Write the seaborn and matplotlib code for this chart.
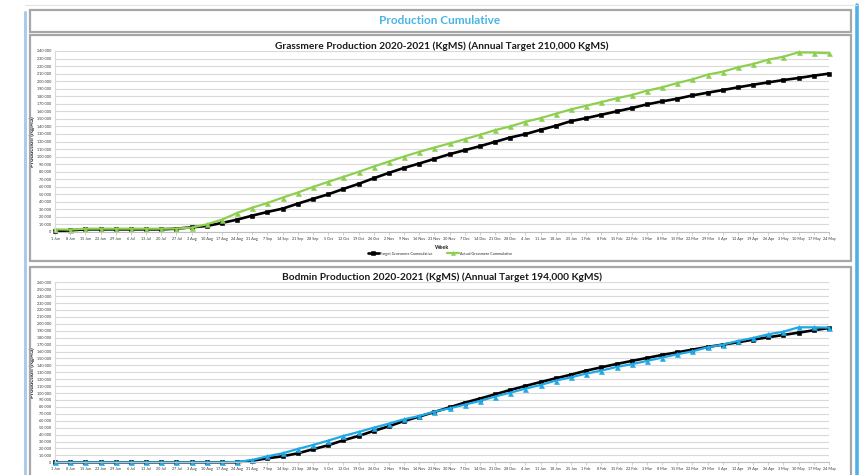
import matplotlib
matplotlib.use("Agg")
import matplotlib.pyplot as plt
import seaborn as sns
import pandas as pd
from matplotlib.patches import Rectangle
from matplotlib.lines import Line2D
from matplotlib.ticker import FuncFormatter, MultipleLocator

weeks = ["1 Jun", "8 Jun", "15 Jun", "22 Jun", "29 Jun", "6 Jul", "13 Jul", "20 Jul", "27 Jul",
         "3 Aug", "10 Aug", "17 Aug", "24 Aug", "31 Aug", "7 Sep", "14 Sep", "21 Sep", "28 Sep",
         "5 Oct", "12 Oct", "19 Oct", "26 Oct", "2 Nov", "9 Nov", "16 Nov", "23 Nov", "30 Nov",
         "7 Dec", "14 Dec", "21 Dec", "28 Dec", "4 Jan", "11 Jan", "18 Jan", "25 Jan", "1 Feb",
         "8 Feb", "15 Feb", "22 Feb", "1 Mar", "8 Mar", "15 Mar", "22 Mar", "29 Mar", "5 Apr",
         "12 Apr", "19 Apr", "26 Apr", "3 May", "10 May", "17 May", "24 May"]

grassmere_target = [1000, 2200, 3500, 3500, 3500, 3500, 3500, 3500, 4400, 6200, 8000, 12000,
                    16400, 21700, 26600, 31000, 37600, 43900, 50000, 57100, 63800, 71300, 78400,
                    85000, 90800, 97000, 103200, 108500, 113800, 119600, 125300, 129800, 135500,
                    140800, 147000, 151000, 155500, 159900, 164300, 169200, 173200, 176700,
                    181100, 184700, 188200, 191800, 195300, 198400, 201500, 204200, 207300, 210000]
grassmere_actual = [3500, 3100, 4400, 4400, 4400, 4400, 4400, 4400, 4600, 5800, 10200, 16400,
                    25200, 32300, 38500, 45600, 52300, 59800, 66400, 73100, 79700, 86800, 93400,
                    100100, 106300, 112000, 117400, 123100, 128900, 135100, 140000, 146200,
                    151000, 156800, 162600, 167400, 172300, 177200, 181600, 187300, 191800,
                    197500, 202400, 208600, 212600, 218300, 222800, 228500, 232500, 238300,
                    237800, 237000]
bodmin_target = [0, 0, 0, 0, 0, 0, 0, 0, 0, 0, 0, 0, 0, 2400, 5800, 8700, 13000, 18800, 24600,
                 31800, 38000, 45300, 52000, 59700, 66000, 72700, 79400, 86200, 92000, 98200,
                 104500, 110300, 116000, 121300, 126600, 132400, 137200, 142000, 146400, 150700,
                 155000, 158900, 162700, 166600, 170000, 173300, 177200, 180600, 183900, 187300,
                 190700, 194000]
bodmin_actual = [0, 0, 0, 0, 0, 0, 0, 0, 0, 0, 0, 0, 500, 3400, 8700, 13000, 19300, 25000,
                 31300, 38000, 43800, 50000, 55900, 62100, 66900, 73200, 78000, 83300, 88600,
                 95000, 100600, 106400, 111700, 118000, 122800, 128100, 132400, 137700, 141600,
                 146400, 151200, 156000, 160300, 166100, 170000, 175300, 179600, 184900, 188700,
                 195000, 195000, 194500]

header_title = "Production Cumulative"
top_title = "Grassmere Production 2020-2021 (KgMS) (Annual Target 210,000 KgMS)"
bottom_title = "Bodmin Production 2020-2021 (KgMS) (Annual Target 194,000 KgMS)"
top_labels = ["Target Grassmere Cummulative", "Actual Grassmere Cummulative"]
bottom_labels = ["Target Bodmin Cummulative", "Actual Bodmin Cummulative"]

sns.set_theme(style="white")
plt.rcParams['font.family'] = ['Lato', 'DejaVu Sans']

W, H = 860, 475
fig = plt.figure(figsize=(W / 100, H / 100), dpi=100)
fig.patch.set_facecolor("white")


def px_rect(x0, y0, x1, y1):
    return [x0 / W, 1 - y1 / H, (x1 - x0) / W, (y1 - y0) / H]


def fig_box(x0, y0, x1, y1, ec="#a6a6a6", lw=1.6):
    r = Rectangle((x0 / W, 1 - y1 / H), (x1 - x0) / W, (y1 - y0) / H,
                  transform=fig.transFigure, fill=False, ec=ec, lw=lw, zorder=0)
    fig.patches.append(r)


# decorative frame
fig.add_artist(Line2D([25 / W, 25 / W], [0, 1 - 12 / H], transform=fig.transFigure,
                      color="#a9cde8", lw=2.2))
fig.add_artist(Line2D([857 / W, 857 / W], [0, 1 - 5 / H], transform=fig.transFigure,
                      color="#4fb0e6", lw=2.6))
fig.add_artist(Line2D([25 / W, 857 / W], [1 - 5 / H, 1 - 5 / H], transform=fig.transFigure,
                      color="#e4e4e4", lw=0.8))
fig_box(30, 10, 851, 32)
fig_box(30, 35, 851, 261)
fig_box(30, 267, 851, 490)

fig.text(440 / W, 1 - 21 / H, header_title, ha="center", va="center",
         fontsize=8.5, fontweight="bold", color="#4ab4e6")

x = list(range(len(weeks)))
fmt = FuncFormatter(lambda v, p: f"{int(v):,}".replace(",", " "))


def draw(rect, target, actual, actual_color, title, ymax, labels, legend):
    ax = fig.add_axes(rect)
    sns.lineplot(x=x, y=target, ax=ax, color="black", lw=1.9, marker="s",
                 markersize=3.4, markeredgecolor="black", markeredgewidth=0.4,
                 label=labels[0])
    sns.lineplot(x=x, y=actual, ax=ax, color=actual_color, lw=1.6, marker="^",
                 markersize=3.6, markeredgecolor=actual_color, markeredgewidth=0.4,
                 label=labels[1])
    for ln in ax.lines:
        ln.set_clip_on(False)
    ax.set_xlim(0, len(weeks) - 1)
    ax.set_ylim(0, ymax)
    ax.yaxis.set_major_locator(MultipleLocator(10000))
    ax.yaxis.set_major_formatter(fmt)
    ax.set_xticks(x)
    ax.set_xticklabels(weeks)
    ax.tick_params(axis="x", labelsize=2.7, length=2, width=0.5, color="#bfbfbf",
                   pad=1.5, labelcolor="#333333", direction="out", bottom=True)
    ax.tick_params(axis="y", labelsize=2.7, length=0, pad=2.5, labelcolor="#333333")
    ax.grid(axis="y", color="#d9d9d9", lw=0.8)
    ax.set_axisbelow(True)
    for s in ["top", "right"]:
        ax.spines[s].set_visible(False)
    ax.spines["left"].set_color("#d9d9d9")
    ax.spines["bottom"].set_color("#bfbfbf")
    ax.spines["left"].set_linewidth(0.8)
    ax.spines["bottom"].set_linewidth(0.8)
    ax.set_ylabel("Production (KgMS)", fontsize=4.3, fontweight="bold", labelpad=1.5,
                  color="#1a1a1a")
    ax.set_xlabel("")
    ax.set_title(title, fontsize=7.3, fontweight="bold", pad=1.5, color="#1a1a1a")
    if legend:
        ax.text(0.5, -0.083, "Week", transform=ax.transAxes, ha="center", va="center",
                fontsize=3.9, fontweight="bold", color="#1a1a1a")
        ax.legend(loc="center", bbox_to_anchor=(0.497, -0.12), ncol=2, frameon=False,
                  fontsize=2.7, handlelength=3.0, columnspacing=4.0, handletextpad=0.3,
                  markerscale=0.8)
    else:
        lg = ax.get_legend()
        if lg is not None:
            lg.remove()
    return ax


draw(px_rect(55, 51, 829, 232), grassmere_target, grassmere_actual, "#8dcf4f",
     top_title, 240000, top_labels, True)
draw(px_rect(55, 282.3, 829, 462.3), bodmin_target, bodmin_actual, "#1fa8e6",
     bottom_title, 260000, bottom_labels, False)

fig.savefig("out.png", dpi=100, facecolor="white")
